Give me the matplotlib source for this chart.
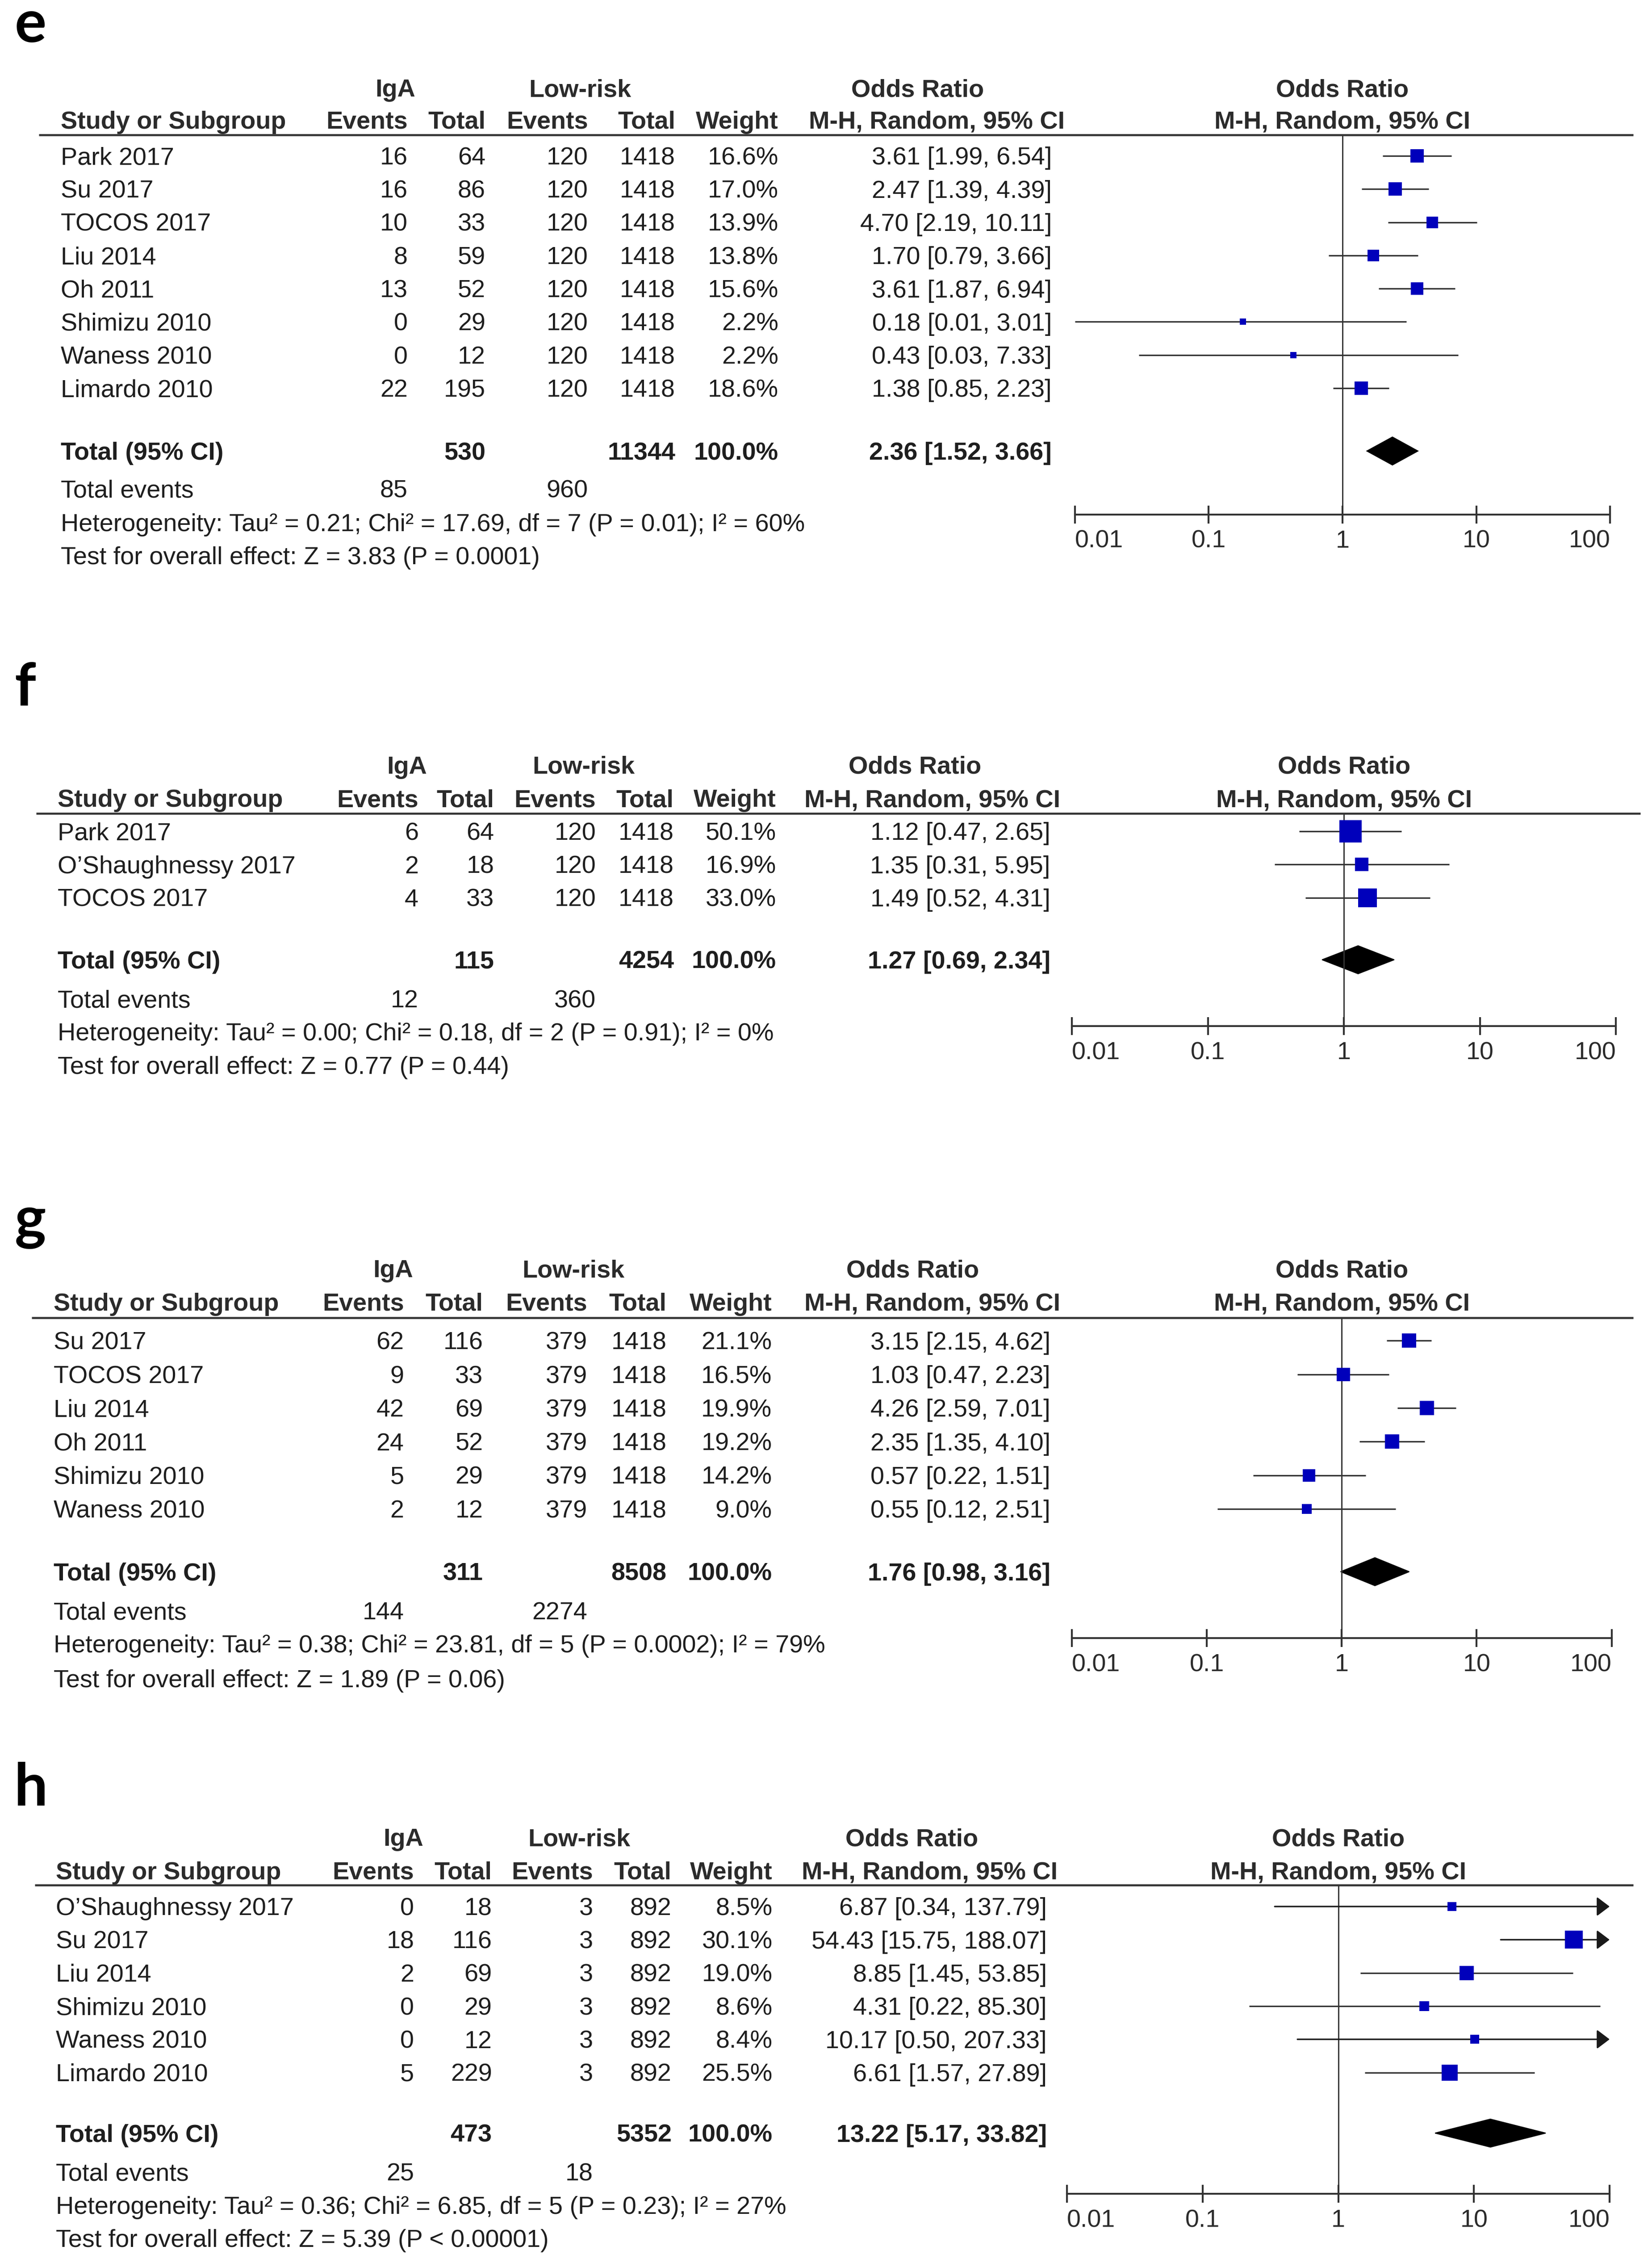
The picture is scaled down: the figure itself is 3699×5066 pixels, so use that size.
import matplotlib

matplotlib.use("Agg")
import matplotlib.pyplot as plt
from matplotlib.patches import Polygon
from matplotlib.ticker import NullLocator
import numpy as np

# ---------------- data ----------------
e_study = ["Park 2017", "Su 2017", "TOCOS 2017", "Liu 2014", "Oh 2011",
           "Shimizu 2010", "Waness 2010", "Limardo 2010"]
e_iga_events = [16, 16, 10, 8, 13, 0, 0, 22]
e_iga_total = [64, 86, 33, 59, 52, 29, 12, 195]
e_lr_events = [120, 120, 120, 120, 120, 120, 120, 120]
e_lr_total = [1418, 1418, 1418, 1418, 1418, 1418, 1418, 1418]
e_weight = [16.6, 17.0, 13.9, 13.8, 15.6, 2.2, 2.2, 18.6]
e_or = [3.61, 2.47, 4.70, 1.70, 3.61, 0.18, 0.43, 1.38]
e_lo = [1.99, 1.39, 2.19, 0.79, 1.87, 0.01, 0.03, 0.85]
e_hi = [6.54, 4.39, 10.11, 3.66, 6.94, 3.01, 7.33, 2.23]
e_pooled = [2.36, 1.52, 3.66]
e_het = "Heterogeneity: Tau² = 0.21; Chi² = 17.69, df = 7 (P = 0.01); I² = 60%"
e_test = "Test for overall effect: Z = 3.83 (P = 0.0001)"

f_study = ["Park 2017", "O’Shaughnessy 2017", "TOCOS 2017"]
f_iga_events = [6, 2, 4]
f_iga_total = [64, 18, 33]
f_lr_events = [120, 120, 120]
f_lr_total = [1418, 1418, 1418]
f_weight = [50.1, 16.9, 33.0]
f_or = [1.12, 1.35, 1.49]
f_lo = [0.47, 0.31, 0.52]
f_hi = [2.65, 5.95, 4.31]
f_pooled = [1.27, 0.69, 2.34]
f_het = "Heterogeneity: Tau² = 0.00; Chi² = 0.18, df = 2 (P = 0.91); I² = 0%"
f_test = "Test for overall effect: Z = 0.77 (P = 0.44)"

g_study = ["Su 2017", "TOCOS 2017", "Liu 2014", "Oh 2011", "Shimizu 2010", "Waness 2010"]
g_iga_events = [62, 9, 42, 24, 5, 2]
g_iga_total = [116, 33, 69, 52, 29, 12]
g_lr_events = [379, 379, 379, 379, 379, 379]
g_lr_total = [1418, 1418, 1418, 1418, 1418, 1418]
g_weight = [21.1, 16.5, 19.9, 19.2, 14.2, 9.0]
g_or = [3.15, 1.03, 4.26, 2.35, 0.57, 0.55]
g_lo = [2.15, 0.47, 2.59, 1.35, 0.22, 0.12]
g_hi = [4.62, 2.23, 7.01, 4.10, 1.51, 2.51]
g_pooled = [1.76, 0.98, 3.16]
g_het = "Heterogeneity: Tau² = 0.38; Chi² = 23.81, df = 5 (P = 0.0002); I² = 79%"
g_test = "Test for overall effect: Z = 1.89 (P = 0.06)"

h_study = ["O’Shaughnessy 2017", "Su 2017", "Liu 2014", "Shimizu 2010", "Waness 2010", "Limardo 2010"]
h_iga_events = [0, 18, 2, 0, 0, 5]
h_iga_total = [18, 116, 69, 29, 12, 229]
h_lr_events = [3, 3, 3, 3, 3, 3]
h_lr_total = [892, 892, 892, 892, 892, 892]
h_weight = [8.5, 30.1, 19.0, 8.6, 8.4, 25.5]
h_or = [6.87, 54.43, 8.85, 4.31, 10.17, 6.61]
h_lo = [0.34, 15.75, 1.45, 0.22, 0.50, 1.57]
h_hi = [137.79, 188.07, 53.85, 85.30, 207.33, 27.89]
h_pooled = [13.22, 5.17, 33.82]
h_het = "Heterogeneity: Tau² = 0.36; Chi² = 6.85, df = 5 (P = 0.23); I² = 27%"
h_test = "Test for overall effect: Z = 5.39 (P < 0.00001)"

tick_values = [0.01, 0.1, 1, 10, 100]
tick_labels = ["0.01", "0.1", "1", "10", "100"]

PANELS = [
    dict(letter="e", study=e_study, ev1=e_iga_events, n1=e_iga_total, ev2=e_lr_events,
         n2=e_lr_total, w=e_weight, est=e_or, lo=e_lo, hi=e_hi, pooled=e_pooled, het=e_het, test=e_test),
    dict(letter="f", study=f_study, ev1=f_iga_events, n1=f_iga_total, ev2=f_lr_events,
         n2=f_lr_total, w=f_weight, est=f_or, lo=f_lo, hi=f_hi, pooled=f_pooled, het=f_het, test=f_test),
    dict(letter="g", study=g_study, ev1=g_iga_events, n1=g_iga_total, ev2=g_lr_events,
         n2=g_lr_total, w=g_weight, est=g_or, lo=g_lo, hi=g_hi, pooled=g_pooled, het=g_het, test=g_test),
    dict(letter="h", study=h_study, ev1=h_iga_events, n1=h_iga_total, ev2=h_lr_events,
         n2=h_lr_total, w=h_weight, est=h_or, lo=h_lo, hi=h_hi, pooled=h_pooled, het=h_het, test=h_test),
]

# layout in reference pixels (1145 x 1568 preview grid)
W, H = 1145.0, 1568.0
LAYOUT = [
    dict(top=0, bottom=430, letter_y=29, h1=61, h2=83, rule=93.5, row0=108, dy=23.0,
         total=312.5, tev=338.5, het=362, test=385, axis=356.5, forest=(745, 1116), rule_x=(27, 1132),
         name=42, c_ev1=282.5, c_n1=336.5, c_ev2=407.5, c_n2=468, c_w=539.5, c_or=729, mh=738,
         h_iga=274, h_lr=402, h_or=636),
    dict(top=440, bottom=800, letter_y=489, h1=530, h2=553, rule=563.5, row0=576, dy=23.0,
         total=665, tev=692, het=715, test=738, axis=711, forest=(743, 1120), rule_x=(25, 1137),
         name=40, c_ev1=290, c_n1=342.5, c_ev2=413, c_n2=467, c_w=538, c_or=728, mh=735,
         h_iga=282, h_lr=404.5, h_or=634),
    dict(top=810, bottom=1190, letter_y=858, h1=879, h2=902, rule=913, row0=929, dy=23.3,
         total=1089, tev=1116, het=1139, test=1163, axis=1135, forest=(743, 1117), rule_x=(22, 1132),
         name=37, c_ev1=280, c_n1=334.7, c_ev2=407, c_n2=462, c_w=535, c_or=728, mh=735,
         h_iga=272.5, h_lr=397.4, h_or=632.7),
    dict(top=1200, bottom=1568, letter_y=1251, h1=1273, h2=1296, rule=1306, row0=1321, dy=23.0,
         total=1478, tev=1505, het=1528, test=1551, axis=1520, forest=(739.5, 1115.6), rule_x=(24, 1132),
         name=38.7, c_ev1=287, c_n1=341, c_ev2=411, c_n2=465.5, c_w=535.5, c_or=725.6, mh=733,
         h_iga=279.6, h_lr=401.5, h_or=632),
]

FONT = "Liberation Sans"
FS = 13.4
BL = 6.0  # baseline offset below row centre (preview px)
TXT = "#1e1e1e"
HDR = "#2b2b2b"
LINE = "#333333"
BLUE = "#0000bb"


def rect(x0, y0, x1, y1):
    return [x0 / W, 1 - y1 / H, (x1 - x0) / W, (y1 - y0) / H]


def fmt_ci(est, lo, hi):
    return f"{est:.2f} [{lo:.2f}, {hi:.2f}]"


def draw_panel(fig, d, L):
    ax = fig.add_axes(rect(0, L["top"], W, L["bottom"]))
    ax.set_xlim(0, W)
    ax.set_ylim(L["bottom"], L["top"])
    ax.axis("off")

    fx0, fx1 = L["forest"]
    fa = fig.add_axes(rect(fx0, L["top"], fx1, L["bottom"]))
    fa.set_xscale("log")
    fa.set_xlim(0.01, 100)
    fa.set_ylim(L["bottom"], L["top"])
    fa.patch.set_visible(False)
    for side in ["left", "right", "top"]:
        fa.spines[side].set_visible(False)
    fa.spines["bottom"].set_position(("data", L["axis"]))
    fa.spines["bottom"].set_linewidth(1.0)
    fa.spines["bottom"].set_color(LINE)
    fa.set_yticks([])
    fa.set_xticks(tick_values)
    fa.set_xticklabels(tick_labels, fontfamily=FONT, fontsize=FS, color=HDR)
    fa.xaxis.set_minor_locator(NullLocator())
    fa.tick_params(axis="x", direction="inout", length=9.4, width=1.0, pad=3.5, color=LINE)
    labels = fa.get_xticklabels()
    labels[0].set_ha("left")
    labels[-1].set_ha("right")

    tx = dict(fontfamily=FONT, fontsize=FS, color=TXT, va="baseline")
    hb = dict(fontfamily=FONT, fontsize=FS, color=HDR, va="baseline", fontweight="bold")

    # panel letter
    ax.text(10, L["letter_y"], d["letter"], fontfamily="Lato", fontsize=32, fontweight="bold",
            color="black", ha="left", va="baseline")

    # headers
    y1 = L["h1"] + BL
    y2 = L["h2"] + BL
    ax.text(L["h_iga"], y1, "IgA", ha="center", **hb)
    ax.text(L["h_lr"], y1, "Low-risk", ha="center", **hb)
    ax.text(L["h_or"], y1, "Odds Ratio", ha="center", **hb)
    ax.text(L["name"], y2, "Study or Subgroup", ha="left", **hb)
    ax.text(L["c_ev1"], y2, "Events", ha="right", **hb)
    ax.text(L["c_n1"], y2, "Total", ha="right", **hb)
    ax.text(L["c_ev2"], y2, "Events", ha="right", **hb)
    ax.text(L["c_n2"], y2, "Total", ha="right", **hb)
    ax.text(L["c_w"], y2, "Weight", ha="right", **hb)
    ax.text(L["mh"], y2, "M-H, Random, 95% CI", ha="right", **hb)
    fa.text(1, y1, "Odds Ratio", ha="center", **hb)
    fa.text(1, y2, "M-H, Random, 95% CI", ha="center", **hb)
    ax.hlines(L["rule"], *L["rule_x"], color=LINE, lw=1.1)

    # study rows
    n = len(d["study"])
    ys = [L["row0"] + i * L["dy"] for i in range(n)]
    for i, y in enumerate(ys):
        yb = y + BL
        ax.text(L["name"], yb, d["study"][i], ha="left", **tx)
        ax.text(L["c_ev1"], yb, str(d["ev1"][i]), ha="right", **tx)
        ax.text(L["c_n1"], yb, str(d["n1"][i]), ha="right", **tx)
        ax.text(L["c_ev2"], yb, str(d["ev2"][i]), ha="right", **tx)
        ax.text(L["c_n2"], yb, str(d["n2"][i]), ha="right", **tx)
        ax.text(L["c_w"], yb, f"{d['w'][i]:.1f}%", ha="right", **tx)
        ax.text(L["c_or"], yb, fmt_ci(d["est"][i], d["lo"][i], d["hi"][i]), ha="right", **tx)

        lo, hi, est = d["lo"][i], d["hi"][i], d["est"][i]
        if hi > 100:
            fa.annotate("", xy=(100, y), xytext=(lo, y),
                        arrowprops=dict(arrowstyle="-|>,head_length=0.45,head_width=0.34",
                                        color="#1a1a1a", lw=0.8, shrinkA=0, shrinkB=0,
                                        mutation_scale=13))
        else:
            fa.hlines(y, lo, hi, color=LINE, lw=0.8)
        side = max(1.72 * np.sqrt(d["w"][i]), 3.4)
        fa.plot([est], [y], marker="s", ms=side, color=BLUE, mew=0, ls="none", zorder=3)

    # totals
    p_est, p_lo, p_hi = d["pooled"]
    yt = L["total"] + BL
    hb_t = dict(hb, color=TXT)
    ax.text(L["name"], yt, "Total (95% CI)", ha="left", **hb_t)
    ax.text(L["c_n1"], yt, str(sum(d["n1"])), ha="right", **hb_t)
    ax.text(L["c_n2"], yt, str(sum(d["n2"])), ha="right", **hb_t)
    ax.text(L["c_w"], yt, "100.0%", ha="right", **hb_t)
    ax.text(L["c_or"], yt, fmt_ci(p_est, p_lo, p_hi), ha="right", **hb_t)
    hh = 9.7
    fa.add_patch(Polygon([(p_lo, L["total"]), (p_est, L["total"] - hh), (p_hi, L["total"]),
                          (p_est, L["total"] + hh)], closed=True, fc="black", ec="black", lw=0.5))

    ye = L["tev"] + BL
    ax.text(L["name"], ye, "Total events", ha="left", **tx)
    ax.text(L["c_ev1"], ye, str(sum(d["ev1"])), ha="right", **tx)
    ax.text(L["c_ev2"], ye, str(sum(d["ev2"])), ha="right", **tx)
    ax.text(L["name"], L["het"] + BL, d["het"], ha="left", **tx)
    ax.text(L["name"], L["test"] + BL, d["test"], ha="left", **tx)

    # line of no effect
    fa.vlines(1, L["rule"], L["axis"], color=LINE, lw=0.7)


fig = plt.figure(figsize=(3699 / 300, 5066 / 300), dpi=300)
fig.patch.set_facecolor("white")
for d, L in zip(PANELS, LAYOUT):
    draw_panel(fig, d, L)

fig.savefig("out.png", dpi=300)
